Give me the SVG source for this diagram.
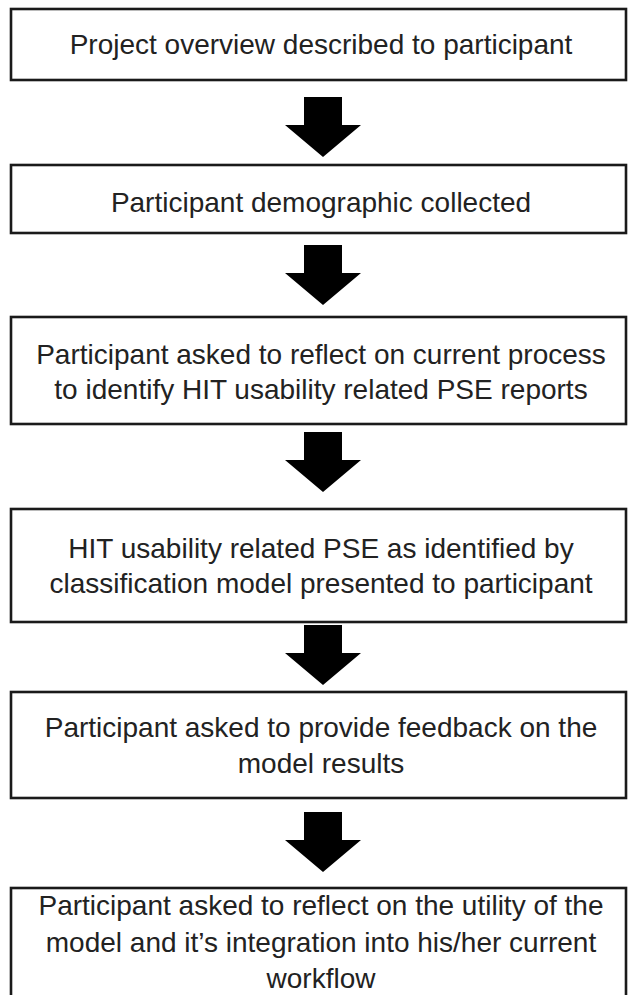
<svg xmlns="http://www.w3.org/2000/svg" width="628" height="995" viewBox="0 0 628 995">
<style>
.box{fill:#fff;stroke:#1a1a1a;stroke-width:2.6}
.t{font-family:"Liberation Sans",Arial,sans-serif;font-size:28px;fill:#222;text-anchor:middle}
.arr{fill:#000}
</style>
<rect width="628" height="995" fill="#fff"/>
<g id="n1"><rect class="box" x="11" y="9" width="615" height="71"/><text class="t" x="321" y="54">Project overview described to participant</text></g>
<g id="n2"><rect class="box" x="11" y="165" width="615" height="68"/><text class="t" x="321" y="212">Participant demographic collected</text></g>
<g id="n3"><rect class="box" x="11" y="317" width="615" height="107"/><text class="t" x="321" y="364">Participant asked to reflect on current process</text><text class="t" x="321" y="399">to identify HIT usability related PSE reports</text></g>
<g id="n4"><rect class="box" x="11" y="509" width="615" height="113"/><text class="t" x="321" y="558">HIT usability related PSE as identified by</text><text class="t" x="321" y="593">classification model presented to participant</text></g>
<g id="n5"><rect class="box" x="11" y="692" width="615" height="106"/><text class="t" x="321" y="737">Participant asked to provide feedback on the</text><text class="t" x="321" y="773">model results</text></g>
<g id="n6"><rect class="box" x="11" y="888" width="615" height="120"/><text class="t" x="321" y="915">Participant asked to reflect on the utility of the</text><text class="t" x="321" y="952">model and it’s integration into his/her current</text><text class="t" x="321" y="988">workflow</text></g>
<g id="connectors">
<polygon class="arr" points="304,97 342,97 342,125 361,125 323,157 285,125 304,125"/>
<polygon class="arr" points="304,245 342,245 342,273 361,273 323,305 285,273 304,273"/>
<polygon class="arr" points="304,432 342,432 342,460 361,460 323,492 285,460 304,460"/>
<polygon class="arr" points="304,625 342,625 342,653 361,653 323,685 285,653 304,653"/>
<polygon class="arr" points="304,812 342,812 342,840 361,840 323,872 285,840 304,840"/>
</g>
</svg>
